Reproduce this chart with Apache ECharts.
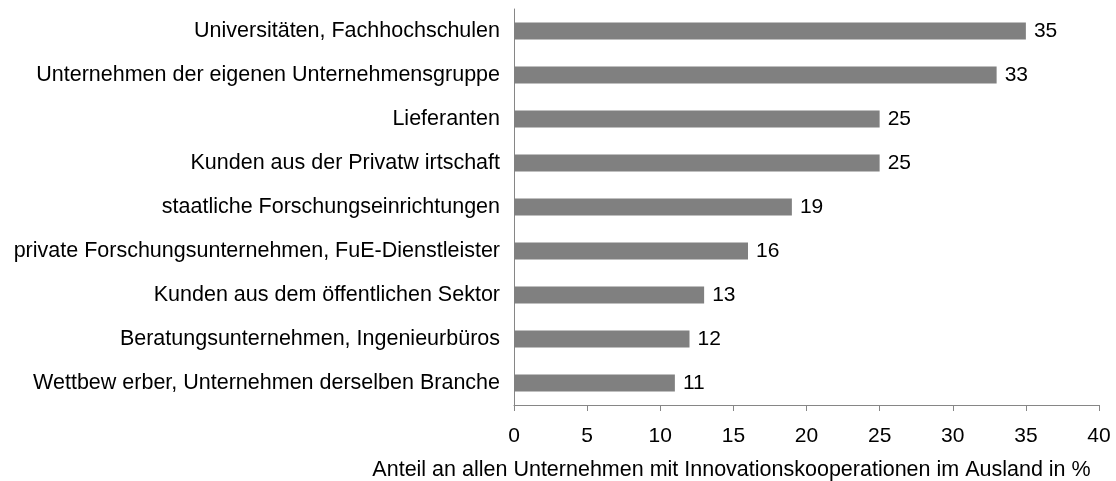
<!DOCTYPE html>
<html>
<head>
<meta charset="utf-8">
<script src="https://cdn.jsdelivr.net/npm/echarts@6/dist/echarts.min.js"></script>
<style>
  html, body { margin: 0; padding: 0; background: #fff; }
  #chart { width: 1116px; height: 481px; }
</style>
</head>
<body>
<div id="chart"></div>
<script>
// Partner types, listed top to bottom
const categories = [
  'Universitäten, Fachhochschulen',
  'Unternehmen der eigenen Unternehmensgruppe',
  'Lieferanten',
  'Kunden aus der Privatw irtschaft',
  'staatliche Forschungseinrichtungen',
  'private Forschungsunternehmen, FuE-Dienstleister',
  'Kunden aus dem öffentlichen Sektor',
  'Beratungsunternehmen, Ingenieurbüros',
  'Wettbew erber, Unternehmen derselben Branche'
];
// Share of firms (%) for each partner type
const shares = [35, 33, 25, 25, 19, 16, 13, 12, 11];
const axisTitle = 'Anteil an allen Unternehmen mit Innovationskooperationen im Ausland in %';

const font = '"Liberation Sans", Arial, sans-serif';
const chart = echarts.init(document.getElementById('chart'));
chart.setOption({
  animation: false,
  grid: {
    left: 514, right: 17, top: 9, bottom: 76,
    containLabel: false,
    outerBoundsMode: 'none'
  },
  xAxis: {
    type: 'value',
    min: 0, max: 40, interval: 5,
    name: axisTitle,
    nameLocation: 'middle',
    nameGap: 54,
    nameMoveOverlap: false,
    nameTextStyle: {
      fontFamily: font, fontSize: 21.5, color: '#000',
      // shifts the title left of the plot centre
      padding: [0, 150, 0, 0]
    },
    axisLine: { show: true, lineStyle: { color: '#868686', width: 1 } },
    axisTick: { show: true, length: 6, lineStyle: { color: '#868686' } },
    axisLabel: { fontFamily: font, fontSize: 21, color: '#000', margin: 21 },
    splitLine: { show: false }
  },
  yAxis: {
    type: 'category',
    data: categories,
    inverse: true,
    axisLine: { show: true, lineStyle: { color: '#868686', width: 1 } },
    axisTick: { show: false },
    axisLabel: { fontFamily: font, fontSize: 21.5, color: '#000', margin: 14 }
  },
  series: [{
    type: 'bar',
    data: shares,
    barCategoryGap: '61%',
    itemStyle: { color: '#808080' },
    label: {
      show: true,
      position: 'right',
      distance: 8,
      fontFamily: font,
      fontSize: 21,
      color: '#000'
    }
  }]
});
</script>
</body>
</html>
